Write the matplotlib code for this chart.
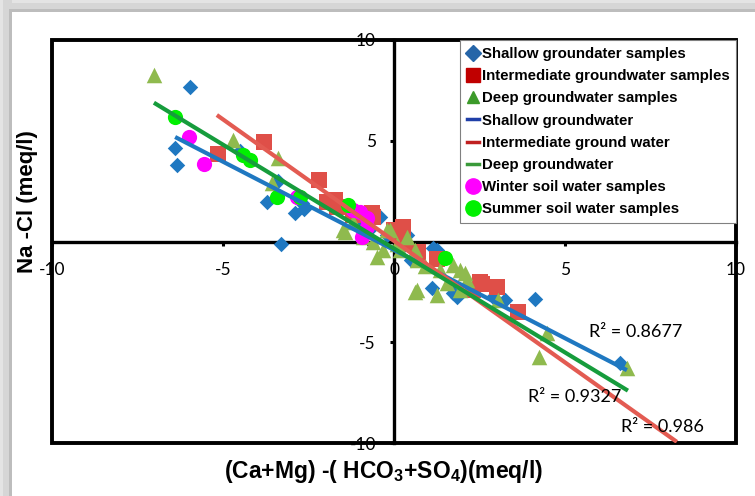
import numpy as np
import matplotlib
matplotlib.use('Agg')
import matplotlib.pyplot as plt
from matplotlib.lines import Line2D
from matplotlib.patches import Rectangle

plt.rcParams['mathtext.default'] = 'regular'
plt.rcParams['axes.unicode_minus'] = False

# sample points (meq/l): x = (Ca+Mg)-(HCO3+SO4), y = Na-Cl
shallow_x = [-5.96, -6.40, -6.35, -4.50, -3.71, -3.40, -2.89, -2.63, -2.70, -3.30, -0.41, -0.70,
             -0.20, 0.38, 0.20, 1.15, 1.26, 1.10, 1.84, 1.73, 2.90, 3.25, 4.12, 6.60, 0.50, -1.00]
shallow_y = [7.67, 4.64, 3.80, 4.50, 1.96, 3.00, 1.41, 1.61, 1.90, -0.12, 1.20, 0.60,
             0.30, 0.32, -0.30, -0.33, -0.42, -2.30, -2.76, -2.56, -2.75, -2.90, -2.85, -6.03, -0.90, 0.90]

inter_x = [-5.15, -3.80, -2.19, -1.96, -1.67, -1.73, -0.64, -0.61, 0.00, 0.09, 0.26, 0.26,
           1.26, 2.30, 2.51, 2.57, 3.00, 3.63, -1.20, 0.70]
inter_y = [4.34, 4.94, 3.05, 1.96, 1.71, 2.06, 1.41, 1.20, 0.57, 0.47, 0.72, -0.07,
           -0.87, -2.40, -2.00, -2.10, -2.26, -3.50, 1.30, -0.50]

deep_x = [-7.02, -4.71, -3.39, -3.57, -1.20, -1.43, -1.49, -0.20, -0.12, -0.32, -0.50, 0.18,
          0.38, 0.67, 0.61, 0.67, 0.61, 1.35, 1.93, 1.55, 2.13, 1.26, 1.73, 2.08, 1.93, 3.04,
          4.47, 4.24, 6.81, -0.90, -0.60, 0.10, 0.90]
deep_y = [8.26, 5.04, 4.14, 2.90, 0.97, 0.47, 0.57, 0.57, 0.57, -0.42, -0.77, -0.42,
          0.22, -0.92, -0.42, -2.40, -2.50, -1.41, -1.41, -2.06, -1.90, -2.65, -1.17, -1.56, -2.40, -2.90,
          -4.54, -5.73, -6.28, 0.20, 0.00, -0.10, -1.20]

winter_x = [-5.99, -5.56, -2.84, -1.20, -0.99, -0.79, -0.79, -0.94]
winter_y = [5.19, 3.85, 2.21, 1.56, 1.46, 1.17, 0.72, 0.22]

summer_x = [-6.40, -4.42, -4.21, -3.42, -2.75, -1.35, 1.49]
summer_y = [6.18, 4.29, 4.04, 2.21, 2.21, 1.81, -0.82]

# linear trend lines: slope, intercept, x range, R2
fit_slope = [-0.876, -1.206, -1.031]
fit_icept = [-0.42, 0.03, -0.35]
fit_xmin = [-6.40, -5.18, -7.02]
fit_xmax = [6.81, 8.27, 6.84]
fit_r2 = ['0.8677', '0.986', '0.9327']
r2_pos = [(7.08, -4.49), (7.84, -9.20), (5.29, -7.72)]

fit_colors = ['#1f78c1', '#e35b52', '#169c3c']

fig = plt.figure(figsize=(7.55, 4.96), dpi=100)

# grey shadow along the top and left edge
W, H = 755, 496
def band(x, y, w, h, c):
    fig.add_artist(Rectangle((x / W, 1 - (y + h) / H), w / W, h / H,
                             transform=fig.transFigure, color=c, lw=0))

band(0, 0, W, 12, '#d6d6d6')
band(0, 0, W, 3, '#e4e4e4')
band(9, 9, W, 3, '#bdbdbd')
band(0, 0, 12, H, '#d6d6d6')
band(0, 0, 3, H, '#e4e4e4')
band(9, 9, 3, H, '#bdbdbd')

ax = fig.add_axes([52 / W, 53 / H, 684 / W, 403 / H])
ax.set_xlim(-10, 10)
ax.set_ylim(-10, 10)

ax.scatter(shallow_x, shallow_y, marker='D', s=62, color='#1f78c1', lw=0, zorder=3)
ax.scatter(inter_x, inter_y, marker='s', s=125, color='#df4f48', lw=0, zorder=3)
ax.scatter(deep_x, deep_y, marker='^', s=125, color='#8fba4e', lw=0, zorder=3)
ax.scatter(winter_x, winter_y, marker='o', s=120, color='#ff00ff', lw=0, zorder=3)
ax.scatter(summer_x, summer_y, marker='o', s=120, color='#00f000', lw=0, zorder=3)

for m, b, x0, x1, c in zip(fit_slope, fit_icept, fit_xmin, fit_xmax, fit_colors):
    xs = np.array([x0, x1])
    ax.plot(xs, m * xs + b, color=c, lw=3, solid_capstyle='butt', zorder=4)

for r2, (tx, ty) in zip(fit_r2, r2_pos):
    ax.text(tx, ty, 'R² = ' + r2, fontsize=13, family='Lato',
            ha='center', va='center', zorder=5)

# axes crossing at zero, box frame around the plot
ax.spines['left'].set_position('zero')
ax.spines['bottom'].set_position('zero')
for s in ax.spines.values():
    s.set_linewidth(2.4)
    s.set_color('black')
ax.spines['top'].set_visible(False)
ax.spines['right'].set_visible(False)
ax.patch.set_edgecolor('black')
ax.patch.set_linewidth(2.8)

ax.set_xticks([-10, -5, 0, 5, 10])
ax.set_yticks([-10, -5, 0, 5, 10])
ax.tick_params(axis='both', direction='out', length=3, width=2.2, labelsize=12.5)
ax.tick_params(axis='x', pad=12)
ax.tick_params(axis='y', pad=10)
for lab in ax.get_xticklabels() + ax.get_yticklabels():
    lab.set_family('Lato')

ax.set_xlabel('(Ca+Mg) -( HCO$_3$+SO$_4$)(meq/l)', fontsize=16.5, fontweight='bold',
              family='Liberation Sans')
ax.xaxis.set_label_coords(0.485, -0.07)
ax.xaxis.label.set_va('center')
ax.set_ylabel('Na -Cl (meq/l)', fontsize=16, fontweight='bold', family='Liberation Sans')
ax.yaxis.set_label_coords(-0.036, 0.6)
ax.yaxis.label.set_va('center')

handles = [
    Line2D([], [], ls='none', marker='D', ms=8, color='#2565a8'),
    Line2D([], [], ls='none', marker='s', ms=10, color='#c00000'),
    Line2D([], [], ls='none', marker='^', ms=9, color='#3c9a2a'),
    Line2D([], [], color='#1f3fa8', lw=2.5),
    Line2D([], [], color='#c02020', lw=2.5),
    Line2D([], [], color='#3a9a3a', lw=2.5),
    Line2D([], [], ls='none', marker='o', ms=11, color='#ff00ff'),
    Line2D([], [], ls='none', marker='o', ms=11, color='#00f000'),
]
labels = ['Shallow groundater samples', 'Intermediate groundwater samples',
          'Deep groundwater samples', 'Shallow groundwater', 'Intermediate ground water',
          'Deep groundwater', 'Winter soil water samples', 'Summer soil water samples']
leg = ax.legend(handles, labels, loc='upper right', bbox_to_anchor=(1, 1), borderaxespad=0,
                fancybox=False, edgecolor='#808080', framealpha=1, handlelength=0.8,
                handletextpad=0.2, labelspacing=0.55, borderpad=0.45,
                prop={'family': 'Liberation Sans', 'weight': 'bold', 'size': 10.8})
leg.get_frame().set_linewidth(0.8)
leg.set_zorder(6)

fig.savefig('out.png', dpi=100)
